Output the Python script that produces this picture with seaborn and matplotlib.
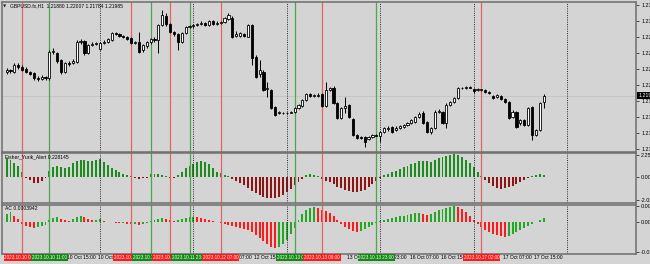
import matplotlib
matplotlib.use("Agg")
import matplotlib.pyplot as plt
import matplotlib.transforms as mtransforms
import numpy as np
import pandas as pd
import seaborn as sns

# ---------------- data (H1 bars, 10 Oct 00:00 .. 17 Oct 18:00) ----------------
open_ = [1.2235,1.2238,1.2235,1.2246,1.2243,1.2240,1.2235,1.2234,1.2226,1.2224,
         1.2228,1.2226,1.2267,1.2265,1.2254,1.2235,1.2249,1.2249,1.2251,1.2282,
         1.2284,1.2265,1.2278,1.2279,1.2271,1.2281,1.2282,1.2285,1.2296,1.2295,
         1.2292,1.2290,1.2288,1.2281,1.2282,1.2270,1.2276,1.2282,1.2287,1.2285,
         1.2309,1.2323,1.2310,1.2298,1.2295,1.2282,1.2296,1.2306,1.2307,1.2309,
         1.2310,1.2312,1.2309,1.2315,1.2310,1.2312,1.2313,1.2318,1.2320,1.2292,
         1.2292,1.2295,1.2290,1.2309,1.2259,1.2232,1.2235,1.2209,1.2207,1.2181,
         1.2171,1.2171,1.2171,1.2171,1.2173,1.2179,1.2182,1.2192,1.2201,1.2198,
         1.2198,1.2201,1.2182,1.2207,1.2210,1.2187,1.2163,1.2179,1.2184,1.2162,
         1.2137,1.2134,1.2134,1.2131,1.2134,1.2137,1.2135,1.2142,1.2146,1.2149,
         1.2145,1.2148,1.2149,1.2153,1.2156,1.2157,1.2165,1.2171,1.2157,1.2142,
         1.2148,1.2173,1.2173,1.2156,1.2184,1.2188,1.2195,1.2210,1.2210,1.2212,
         1.2209,1.2207,1.2207,1.2207,1.2204,1.2198,1.2196,1.2198,1.2193,1.2188,
         1.2165,1.2173,1.2156,1.2160,1.2153,1.2181,1.2137,1.2145,1.21880]
high = [1.2242,1.2240,1.2249,1.2249,1.2246,1.2243,1.2237,1.2235,1.2229,1.2231,
        1.2229,1.2270,1.2273,1.2267,1.2256,1.2251,1.2253,1.2256,1.2285,1.2287,
        1.2285,1.2279,1.2282,1.2282,1.2282,1.2285,1.2288,1.2298,1.2298,1.2296,
        1.2293,1.2292,1.2290,1.2284,1.2298,1.2279,1.2284,1.2288,1.2290,1.2310,
        1.2332,1.2328,1.2312,1.2299,1.2296,1.2298,1.2307,1.2309,1.2310,1.2312,
        1.2315,1.2313,1.2317,1.2317,1.2315,1.2315,1.2321,1.2328,1.2323,1.2299,
        1.2298,1.2296,1.2310,1.2310,1.2262,1.2254,1.2238,1.2220,1.2209,1.2182,
        1.2174,1.2173,1.2173,1.2174,1.2181,1.2185,1.2193,1.2203,1.2203,1.2201,
        1.2203,1.2203,1.2220,1.2212,1.2213,1.2188,1.2181,1.2196,1.2185,1.2163,
        1.2138,1.2135,1.2135,1.2135,1.2138,1.2138,1.2143,1.2149,1.2151,1.2151,
        1.2151,1.2153,1.2154,1.2157,1.2162,1.2167,1.2173,1.2174,1.2159,1.2149,
        1.2176,1.2178,1.2174,1.2187,1.2190,1.2196,1.2212,1.2212,1.2213,1.2213,
        1.2210,1.2210,1.2209,1.2209,1.2206,1.2199,1.2201,1.2199,1.2195,1.2190,
        1.2176,1.2174,1.2162,1.2162,1.2181,1.2182,1.2146,1.2188,1.22007]
low = [1.2232,1.2234,1.2234,1.2240,1.2237,1.2234,1.2231,1.2223,1.2221,1.2223,
       1.2223,1.2223,1.2263,1.2249,1.2232,1.2234,1.2245,1.2248,1.2249,1.2279,
       1.2262,1.2263,1.2276,1.2278,1.2270,1.2279,1.2281,1.2284,1.2293,1.2290,
       1.2288,1.2285,1.2279,1.2279,1.2265,1.2267,1.2273,1.2279,1.2282,1.2265,
       1.2307,1.2307,1.2296,1.2292,1.2270,1.2281,1.2295,1.2304,1.2304,1.2307,
       1.2309,1.2307,1.2307,1.2309,1.2309,1.2310,1.2312,1.2317,1.2288,1.2290,
       1.2290,1.2290,1.2290,1.2246,1.2226,1.2228,1.2206,1.2196,1.2178,1.2167,
       1.2170,1.2170,1.2170,1.2171,1.2171,1.2178,1.2181,1.2190,1.2196,1.2196,
       1.2196,1.2181,1.2181,1.2206,1.2185,1.2162,1.2162,1.2171,1.2163,1.2135,
       1.2131,1.2131,1.2118,1.2129,1.2132,1.2135,1.2126,1.2140,1.2143,1.2140,
       1.2143,1.2146,1.2148,1.2151,1.2154,1.2156,1.2163,1.2154,1.2140,1.2138,
       1.2146,1.2171,1.2154,1.2148,1.2182,1.2187,1.2193,1.2209,1.2209,1.2210,
       1.2203,1.2206,1.2206,1.2203,1.2201,1.2193,1.2195,1.2192,1.2187,1.2162,
       1.2163,1.2148,1.2153,1.2151,1.2151,1.2129,1.2135,1.2143,1.21784]
close = [1.2238,1.2237,1.2246,1.2243,1.2238,1.2235,1.2232,1.2226,1.2224,1.2228,
         1.2226,1.2267,1.2268,1.2253,1.2235,1.2249,1.2248,1.2253,1.2282,1.2284,
         1.2265,1.2278,1.2279,1.2281,1.2281,1.2282,1.2287,1.2296,1.2295,1.2292,
         1.2290,1.2287,1.2281,1.2282,1.2267,1.2278,1.2282,1.2287,1.2285,1.2309,
         1.2324,1.2310,1.2298,1.2295,1.2282,1.2296,1.2306,1.2307,1.2309,1.2310,
         1.2312,1.2309,1.2315,1.2310,1.2312,1.2313,1.2320,1.2324,1.2290,1.2295,
         1.2296,1.2292,1.2309,1.2257,1.2228,1.2238,1.2207,1.2210,1.2179,1.2168,
         1.2173,1.2172,1.2172,1.2173,1.2179,1.2184,1.2192,1.2201,1.2198,1.2199,
         1.2199,1.2182,1.2207,1.2210,1.2187,1.2163,1.2179,1.2182,1.2165,1.2137,
         1.2132,1.2132,1.2126,1.2134,1.2137,1.2136,1.2142,1.2148,1.2148,1.2142,
         1.2148,1.2151,1.2153,1.2156,1.2160,1.2165,1.2170,1.2156,1.2142,1.2148,
         1.2173,1.2174,1.2156,1.2184,1.2188,1.2195,1.2210,1.2211,1.2212,1.2211,
         1.2206,1.2209,1.2208,1.2204,1.2203,1.2195,1.2199,1.2193,1.2188,1.2163,
         1.2173,1.2149,1.2160,1.2153,1.2179,1.2137,1.2145,1.2187,1.21985]

fisher = [1.8,1.6,1.3,1.0,0.5,-0.1,-0.3,-0.6,-0.55,-0.35,
          -0.1,0.6,0.9,1.0,0.9,0.8,0.9,1.3,1.5,1.6,
          1.6,1.5,1.55,1.6,1.7,1.4,1.1,0.85,0.65,0.45,
          0.3,0.15,0.05,-0.1,-0.15,-0.12,-0.1,0.25,0.28,0.3,
          0.2,0.08,-0.1,-0.06,0.2,0.5,0.8,1.0,1.25,1.4,
          1.5,1.4,1.2,0.85,0.5,0.35,0.2,0.1,-0.2,-0.4,
          -0.6,-0.8,-1.0,-1.3,-1.5,-1.7,-1.85,-1.95,-2.0,-1.95,
          -1.85,-1.7,-1.4,-1.1,-0.8,-0.45,-0.15,0.15,0.25,0.2,
          0.1,-0.2,-0.35,-0.5,-0.7,-0.9,-1.05,-1.2,-1.3,-1.4,
          -1.45,-1.35,-1.2,-0.95,-0.7,-0.4,-0.1,0.15,0.3,0.45,
          0.6,0.75,0.9,1.05,1.2,1.35,1.5,1.55,1.5,1.45,
          1.6,1.8,1.85,2.0,2.1,2.2,2.1,1.9,1.6,1.3,
          0.9,0.5,0.1,-0.3,-0.6,-0.85,-1.0,-1.1,-1.05,-0.95,
          -0.85,-0.7,-0.5,-0.3,-0.1,0.1,0.2,0.25,0.228145]

ac_x1e4 = [8,10,6,3,-2,-4,-5,-6,-5,-4,
           -3,2,4,5,3,2,1,3,5,6,
           5,3,2,2,3,1,0.5,0.5,-0.5,-1,
           -1,-1.5,-2,-2,-2.5,-2,-1,1,2,3,
           4,3,2,1,2,3,4,5,5.5,5,
           4,3,2,1,0.5,-1,-2,-3,-4,-5,
           -6,-7,-8,-10,-13,-16,-19,-22,-25,-26,
           -25,-22,-18,-12,-6,2,8,12,14,15,
           14,12,11,9,6,2,-2,-5,-7,-9,
           -10,-9,-7,-5,-3,-1,1,2,3,4,
           5,6,6,7,8,9,9,8,7,8,
           10,12,13,14,15,16,15,13,10,6,
           2,-2,-5,-8,-10,-12,-13,-14,-15,-14,
           -12,-10,-8,-6,-4,-2,0.5,2,3.942]

day_starts = [24, 48, 72, 96, 120, 144]
red_lines = [4, 32, 42, 55, 81, 122]
green_lines = [11, 37, 47, 74, 95]
vline_labels = {4: "2023.10.10 04:00", 11: "2023.10.10 11:00", 32: "2023.10.11 08:00",
                37: "2023.10.11 13:00", 42: "2023.10.11 18:00", 47: "2023.10.11 23:00",
                55: "2023.10.12 07:00", 74: "2023.10.13 02:00", 81: "2023.10.13 09:00",
                95: "2023.10.13 23:00", 122: "2023.10.17 02:00"}
time_ticks = [7, 15, 23, 31, 39, 47, 55, 63, 71, 79, 87, 95, 103, 111, 119, 127, 135]
label_ticks = [15, 23, 55, 63, 87, 95, 103, 111, 127, 135]
time_labels = ["10 Oct 15:00", "10 Oct 23:00", "12 Oct 07:00", "12 Oct 15:00", "13 Oct 15:00",
               "13 Oct 23:00", "16 Oct 07:00", "16 Oct 15:00", "17 Oct 07:00", "17 Oct 15:00"]
price_ticks = [1.2340, 1.2315, 1.2290, 1.2265, 1.2240, 1.2215, 1.2190, 1.2165, 1.2140, 1.2115]
fisher_axis_labels = ["2.2592", "0.00", "-2.0214"]
ac_axis_labels = ["0.001750", "0.00", "-0.003100"]
title_text = "GBPUSD.fx,H1  1.21880 1.22007 1.21784 1.21985"
fisher_title = "Fisher_Yurik_Alert 0.228145"
ac_title = "AC 0.0003942"

# ---------------- styling ----------------
sns.set_theme(style="white")
FONT = ['Liberation Sans', 'DejaVu Sans']
plt.rcParams['font.family'] = FONT

W, H = 650, 264
BG = '#d4d4d4'
RED_L, GREEN_L = '#e46464', '#4aa84a'
RED_B = '#ff1a1a'
FS = 3.6
fig = plt.figure(figsize=(W / 100, H / 100), dpi=100, facecolor=BG)


def rect(x0, y0, x1, y1):
    return [x0 / W, 1 - y1 / H, (x1 - x0) / W, (y1 - y0) / H]


ax0 = fig.add_axes(rect(2, 2, 636, 151.5))
ax1 = fig.add_axes(rect(2, 153, 636, 203))
ax2 = fig.add_axes(rect(2, 205, 636, 254))
axes = [ax0, ax1, ax2]

PX, X0 = 3.892, 6.6
XL = ((2 - X0) / PX, (636 - X0) / PX)

o = np.array(open_); c = np.array(close); hi = np.array(high); lo = np.array(low)
bar = np.arange(len(c))

# candles
bull = c >= o
body_lo = np.minimum(o, c)
body_h = np.maximum(np.abs(c - o), 0.000012)
ax0.vlines(bar, lo, hi, color='black', lw=0.7, zorder=3)
ax0.bar(bar[bull], body_h[bull], bottom=body_lo[bull], width=0.55, color='white',
        edgecolor='black', linewidth=0.6, zorder=4)
ax0.bar(bar[~bull], body_h[~bull], bottom=body_lo[~bull], width=0.55, color='black',
        edgecolor='black', linewidth=0.6, zorder=4)
ax0.axhline(c[-1], color='#c4c4c4', lw=0.6, zorder=1)
ax0.set_ylim(1.21111, 1.23447)
ax0.set_yticks(price_ticks)
ax0.set_yticklabels([f"{v:.5f}" for v in price_ticks])
ax0.text(1.0035, c[-1], f"{c[-1]:.5f}", transform=mtransforms.blended_transform_factory(ax0.transAxes, ax0.transData),
         color='white', fontsize=FS + 0.2, va='center', ha='left', zorder=20, clip_on=False,
         bbox=dict(boxstyle='square,pad=0.15', fc='black', ec='none'))

# Fisher histogram
df_f = pd.DataFrame({'bar': bar, 'val': fisher,
                     'dir': np.where(np.array(fisher) >= 0, 'up', 'down')})
sns.barplot(data=df_f, x='bar', y='val', hue='dir', palette={'up': '#1c8c1c', 'down': '#8e1414'},
            native_scale=True, dodge=False, width=0.5, saturation=1, errorbar=None,
            legend=False, linewidth=0, ax=ax1)
f_lo, f_hi = -2.45, 2.26
ax1.set_ylim(f_lo, f_hi)
ax1.set_yticks([f_lo + 0.96 * (f_hi - f_lo), 0, f_lo + 0.06 * (f_hi - f_lo)])
ax1.set_yticklabels(fisher_axis_labels)

# AC histogram
ac = np.array(ac_x1e4) * 1e-4
ac_dir = np.where(np.diff(np.r_[ac[0] - 1, ac]) >= 0, 'up', 'down')
df_a = pd.DataFrame({'bar': bar, 'val': ac, 'dir': ac_dir})
sns.barplot(data=df_a, x='bar', y='val', hue='dir', palette={'up': '#22a822', 'down': RED_B},
            native_scale=True, dodge=False, width=0.5, saturation=1, errorbar=None,
            legend=False, linewidth=0, ax=ax2)
a_lo, a_hi = -0.00321, 0.00175
ax2.set_ylim(a_lo, a_hi)
ax2.set_yticks([a_lo + 0.97 * (a_hi - a_lo), 0, a_lo + 0.05 * (a_hi - a_lo)])
ax2.set_yticklabels(ac_axis_labels)

for ax in axes:
    ax.set_facecolor(BG)
    ax.set_xlim(*XL)
    ax.set_xlabel(''); ax.set_ylabel('')
    ax.yaxis.tick_right()
    ax.tick_params(axis='y', length=2.5, width=0.6, colors='#303030', labelsize=FS + 0.3,
                   pad=1.2, labelcolor='black')
    for s in ax.spines.values():
        s.set_color('#6e6e6e'); s.set_linewidth(1.1)
    for k in day_starts:
        ax.axvline(k, color='#2a2a2a', lw=0.7, ls=(0, (1, 1.3)), zorder=2)
    for k in red_lines:
        ax.axvline(k, color=RED_L, lw=0.9, zorder=2)
    for k in green_lines:
        ax.axvline(k, color=GREEN_L, lw=0.9, zorder=2)
    ax.set_xticks([])

ax2.set_xticks(time_ticks)
ax2.set_xticklabels([])
ax2.tick_params(axis='x', length=2, width=0.6, colors='#303030', direction='out', pad=0)
ax2.set_xlim(*XL)

bt = mtransforms.blended_transform_factory(ax2.transData, ax2.transAxes)
for k, lab in zip(label_ticks, time_labels):
    ax2.text(k + 0.55, -0.075, lab, transform=bt, ha='left', va='center', fontsize=FS,
             color='black', zorder=3, clip_on=False)
for i, k in enumerate(sorted(vline_labels)):
    fc = RED_B if k in red_lines else '#128a12'
    ax2.text(k, -0.075, vline_labels[k], transform=bt, ha='center', va='center', fontsize=FS - 0.3,
             color='white', zorder=10 + i, clip_on=False,
             bbox=dict(boxstyle='square,pad=0.2', fc=fc, ec='none'))

fig.text(3 / W, 1 - 6 / H, '\u25bc', fontsize=3.0, va='center', ha='left', color='#202020',
         family=['DejaVu Sans'])
fig.text(10 / W, 1 - 6 / H, title_text, fontsize=FS, va='center', ha='left', color='black')
fig.text(5 / W, 1 - 157 / H, fisher_title, fontsize=FS, va='center', ha='left', color='black')
fig.text(5 / W, 1 - 208 / H, ac_title, fontsize=FS, va='center', ha='left', color='black')

fig.savefig('out.png', dpi=100, facecolor=BG)
